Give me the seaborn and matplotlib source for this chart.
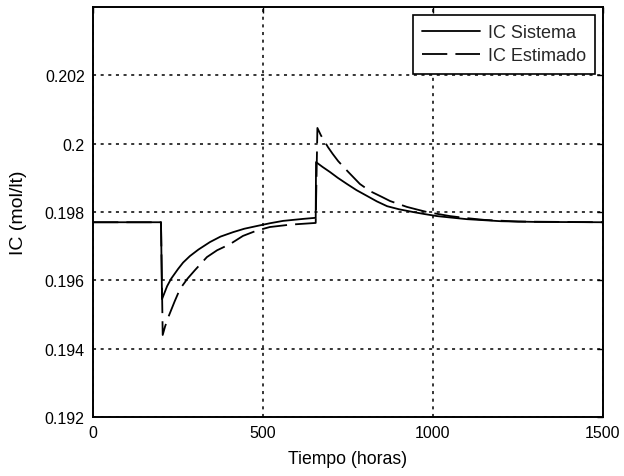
import numpy as np
import pandas as pd
import matplotlib
matplotlib.use("Agg")
import matplotlib.pyplot as plt
import seaborn as sns

# Data
t_sistema = [0, 200, 203, 218, 230, 250, 265, 285, 310, 344, 375, 412, 445,
             482, 520, 559, 620, 655,
             656, 675, 697, 720, 747, 775, 806, 835, 865, 900, 941, 975,
             1012, 1050, 1100, 1150, 1200, 1300, 1500]
ic_sistema = [0.19770, 0.19770, 0.19545, 0.19583, 0.19605, 0.19633, 0.19652,
              0.19671, 0.19690, 0.19712, 0.19728, 0.19741, 0.19751,
              0.19759, 0.19767, 0.19774, 0.19780, 0.19783,
              0.19946, 0.19932, 0.19917, 0.19900, 0.19882, 0.19864, 0.19847,
              0.19831, 0.19817, 0.19808, 0.19800, 0.19794,
              0.19788, 0.19784, 0.19779, 0.19776, 0.19773, 0.19771, 0.19770]

t_estimado = [0, 200, 205, 212, 223, 240, 256, 278, 300, 335, 365, 403, 441,
              480, 520, 580, 655,
              660, 670, 691, 705, 721, 750, 785, 815, 850, 874, 923, 950,
              982, 1010, 1050, 1100, 1150, 1250, 1500]
ic_estimado = [0.19770, 0.19770, 0.19440, 0.19465, 0.19496, 0.19538, 0.19575,
               0.19605, 0.19630, 0.19668, 0.19688, 0.19706, 0.19730,
               0.19745, 0.19756, 0.19763, 0.19768,
               0.20046, 0.20025, 0.19990, 0.19970, 0.19949, 0.19918, 0.19882,
               0.19861, 0.19844, 0.19832, 0.19815, 0.19808,
               0.19800, 0.19795, 0.19788, 0.19782, 0.19777, 0.19772, 0.19770]

x_ticks = [0, 500, 1000, 1500]
y_ticks = [0.192, 0.194, 0.196, 0.198, 0.200, 0.202]
y_tick_labels = ["0.192", "0.194", "0.196", "0.198", "0.2", "0.202"]

df = pd.concat([
    pd.DataFrame({"t": t_sistema, "ic": ic_sistema, "serie": "IC Sistema"}),
    pd.DataFrame({"t": t_estimado, "ic": ic_estimado, "serie": "IC Estimado"}),
], ignore_index=True)

sns.set_style("white")
plt.rcParams["font.family"] = ["Liberation Sans", "DejaVu Sans"]
plt.rcParams["font.size"] = 11

fig = plt.figure(figsize=(6.24, 4.77), dpi=100)
ax = fig.add_axes([93/624, 1 - 418/477, (603 - 93)/624, (418 - 8)/477])

sns.lineplot(data=df, x="t", y="ic", hue="serie", style="serie",
             palette={"IC Sistema": "black", "IC Estimado": "black"},
             dashes={"IC Sistema": "", "IC Estimado": (14, 4.5)},
             sort=False, estimator=None, linewidth=1.3, ax=ax)

ax.set_xlim(0, 1500)
ax.set_ylim(0.192, 0.204)
ax.set_xticks(x_ticks)
ax.set_yticks(y_ticks)
ax.set_yticklabels(y_tick_labels)
ax.grid(True, color="black", linestyle=(0, (2, 3)), linewidth=1.1)
ax.tick_params(direction="in", length=4, width=1, top=True, right=True,
               colors="black", labelsize=11.5, pad=6)
for s in ax.spines.values():
    s.set_color("black")
    s.set_linewidth(1.4)
    s.set_visible(True)
ax.set_xlabel("Tiempo (horas)", fontsize=12.7, color="black")
ax.set_ylabel("IC (mol/lt)", fontsize=14, color="black")
ax.xaxis.set_label_coords(0.5, (418 - 451) / 410)
ax.yaxis.set_label_coords((27 - 93) / 510, 0.5)

leg = ax.legend(loc="upper right", frameon=True, fancybox=False,
                edgecolor="black", framealpha=1, fontsize=13,
                handlelength=3.2, borderaxespad=0.45, handletextpad=0.45,
                borderpad=0.5, labelspacing=0.35)
leg.get_frame().set_linewidth(1.2)
for h in leg.get_lines():
    h.set_linewidth(1.3)

fig.savefig("out.png", dpi=100)
